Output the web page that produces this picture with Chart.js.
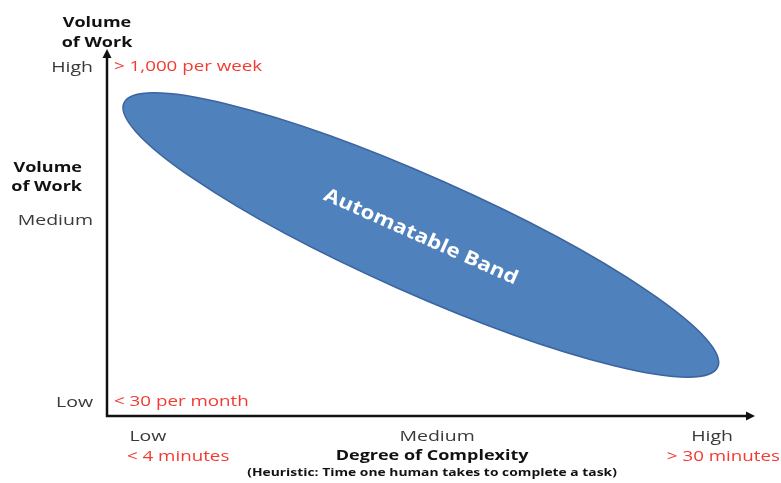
<!DOCTYPE html>
<html>
<head>
<meta charset="utf-8">
<style>
  html, body { margin: 0; padding: 0; background: #ffffff; }
  #wrap { width: 781px; height: 483px; }
</style>
<script src="https://cdn.jsdelivr.net/npm/chart.js@4/dist/chart.umd.min.js"></script>
</head>
<body>
<div id="wrap"><canvas id="c" width="781" height="483"></canvas></div>
<script>
// Ordinal levels on each axis and where they sit on the scale
const xLevels = ['Low', 'Medium', 'High'];
const xLevelValues = [0, 1.025, 2];
const yLevels = ['Low', 'Medium', 'High'];
const yLevelValues = [0, 1.09, 2];

// Concrete ranges attached to the extreme levels
const complexityRanges = ['< 4 minutes', '', '> 30 minutes'];
const volumeRanges = ['< 30 per month', '', '> 1,000 per week'];

// Axis titles
const yTitle = ['Volume', 'of Work'];
const xTitle = 'Degree of Complexity';
const xSubtitle = '(Heuristic: Time one human takes to complete a task)';

// The automatable band: an ellipse between two tips (complexity, volume)
const bandLabel = 'Automatable Band';
const bandTipX = [-0.085, 2.02];
const bandTipY = [1.79, 0.215];

const FONT = "'Open Sans', 'DejaVu Sans', sans-serif";
const RED = '#f23a32';
const DARK = '#3a3a3a';

// Draws text with a slight horizontal stretch (wide lettering)
function text(ctx, str, x, y, font, color, align, sx) {
  ctx.save();
  ctx.font = font;
  ctx.fillStyle = color;
  ctx.textAlign = align || 'center';
  ctx.textBaseline = 'middle';
  ctx.translate(x, y);
  ctx.scale(sx || 1.25, 1);
  ctx.fillText(str, 0, 0);
  ctx.restore();
}

const diagramPlugin = {
  id: 'diagram',
  beforeDatasetsDraw(chart) {
    const ctx = chart.ctx;
    const xs = chart.scales.x, ys = chart.scales.y;
    // band ellipse
    const x1 = xs.getPixelForValue(bandTipX[0]), y1 = ys.getPixelForValue(bandTipY[0]);
    const x2 = xs.getPixelForValue(bandTipX[1]), y2 = ys.getPixelForValue(bandTipY[1]);
    const cx = (x1 + x2) / 2, cy = (y1 + y2) / 2;
    const a = Math.hypot(x2 - x1, y2 - y1) / 2;
    const ang = Math.atan2(y2 - y1, x2 - x1);
    ctx.save();
    ctx.beginPath();
    ctx.ellipse(cx, cy, a, 58, ang, 0, Math.PI * 2);
    ctx.fillStyle = '#4f81bd';
    ctx.fill();
    ctx.lineWidth = 1.5;
    ctx.strokeStyle = '#3b64a0';
    ctx.stroke();
    // band label along the major axis
    ctx.translate(cx, cy + 2);
    ctx.rotate(ang);
    text(ctx, bandLabel, 0, 0, 'bold 19px ' + FONT, '#ffffff', 'center', 1.18);
    ctx.restore();
  },
  afterDraw(chart) {
    const ctx = chart.ctx;
    const area = chart.chartArea;
    const xs = chart.scales.x, ys = chart.scales.y;
    const ax = area.left, ay = area.bottom;
    ctx.save();
    // axes with arrow heads
    ctx.strokeStyle = '#111';
    ctx.fillStyle = '#111';
    ctx.lineWidth = 2.5;
    ctx.beginPath();
    ctx.moveTo(ax, area.top + 6);
    ctx.lineTo(ax, ay);
    ctx.lineTo(area.right - 6, ay);
    ctx.stroke();
    ctx.beginPath();
    ctx.moveTo(ax, area.top);
    ctx.lineTo(ax - 4.5, area.top + 9);
    ctx.lineTo(ax + 4.5, area.top + 9);
    ctx.closePath();
    ctx.fill();
    ctx.beginPath();
    ctx.moveTo(area.right, ay);
    ctx.lineTo(area.right - 9, ay - 4.5);
    ctx.lineTo(area.right - 9, ay + 4.5);
    ctx.closePath();
    ctx.fill();

    // y axis titles
    const tf = 'bold 15px ' + FONT;
    text(ctx, yTitle[0], ax - 10, 23, tf, '#111', 'center', 1.2);
    text(ctx, yTitle[1], ax - 10, 43, tf, '#111', 'center', 1.2);
    text(ctx, yTitle[0], 82, 168, tf, '#111', 'right', 1.2);
    text(ctx, yTitle[1], 82, 187, tf, '#111', 'right', 1.2);

    // y levels and ranges
    yLevels.forEach((lab, i) => {
      const py = ys.getPixelForValue(yLevelValues[i]);
      text(ctx, lab, ax - 14, py, '15px ' + FONT, DARK, 'right', 1.3);
      if (volumeRanges[i]) {
        text(ctx, volumeRanges[i], ax + 7, py - 1, '15px ' + FONT, RED, 'left', 1.25);
      }
    });

    // x levels and ranges
    const rowY = ay + 21;
    xLevels.forEach((lab, i) => {
      const px = xs.getPixelForValue(xLevelValues[i]);
      text(ctx, lab, px, rowY, '15px ' + FONT, DARK, 'center', 1.3);
      if (complexityRanges[i]) {
        if (i === 0) {
          text(ctx, complexityRanges[i], px - 21, rowY + 20, '15px ' + FONT, RED, 'left', 1.25);
        } else {
          text(ctx, complexityRanges[i], chart.width - 1, rowY + 20, '15px ' + FONT, RED, 'right', 1.25);
        }
      }
    });

    // x axis title
    const mid = xs.getPixelForValue(xLevelValues[1]) - 5;
    text(ctx, xTitle, mid, ay + 40, 'bold 15px ' + FONT, '#111', 'center', 1.2);
    text(ctx, xSubtitle, mid, ay + 57, 'bold 11px ' + FONT, '#111', 'center', 1.26);
    ctx.restore();
  }
};

new Chart(document.getElementById('c'), {
  type: 'scatter',
  data: { datasets: [{ data: [] }] },
  options: {
    responsive: false,
    animation: false,
    devicePixelRatio: 1,
    layout: { padding: { left: 107, right: 26, top: 49, bottom: 67 } },
    plugins: { legend: { display: false }, tooltip: { enabled: false } },
    scales: {
      x: { type: 'linear', min: -0.145, max: 2.152, display: false },
      y: { type: 'linear', min: -0.078, max: 2.113, display: false }
    }
  },
  plugins: [diagramPlugin]
});
</script>
</body>
</html>
